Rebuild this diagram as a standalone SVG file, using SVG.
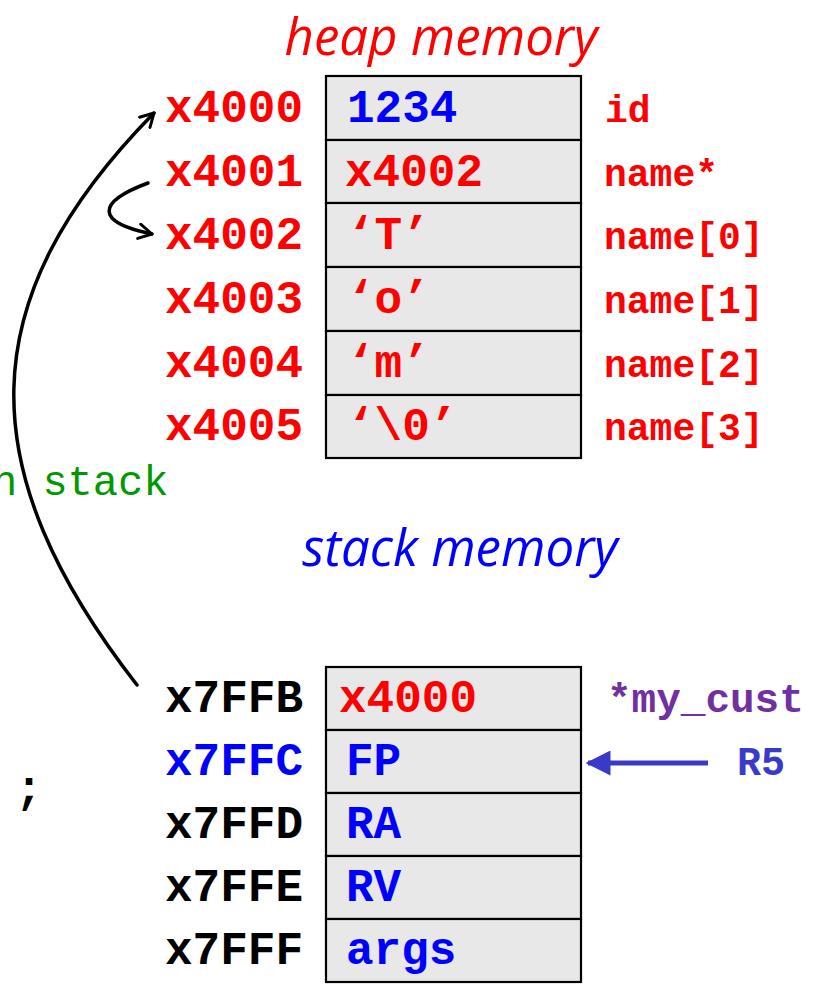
<svg xmlns="http://www.w3.org/2000/svg" width="832" height="992" viewBox="0 0 832 992">
<style>
.cell{fill:#E8E8E8;stroke:#000;stroke-width:2.2}
.mono{font-family:"Liberation Mono","Courier New",monospace;font-weight:bold}
.addr{font-size:46px}
.lbl{font-size:38px}
.title{font-family:"Open Sans","Noto Sans",sans-serif;font-style:italic;font-size:51px}
.red{fill:#FF0000}
.blue{fill:#0000FF}
.blk{fill:#000}
.conn{fill:none;stroke:#000;stroke-width:3.5;stroke-linecap:round}
</style>
<defs>
<marker id="open" viewBox="0 0 12 12" refX="10" refY="6" markerWidth="5" markerHeight="5" orient="auto" markerUnits="strokeWidth">
<path d="M1,1 L10,6 L1,11" fill="none" stroke="#000" stroke-width="2" stroke-linecap="round" stroke-linejoin="round"/>
</marker>
<marker id="tri" viewBox="0 0 10 10" refX="9" refY="5" markerWidth="5" markerHeight="5" orient="auto" markerUnits="strokeWidth">
<path d="M0,0 L10,5 L0,10 Z" fill="#3A3AC8"/>
</marker>
</defs>
<rect width="832" height="992" fill="#fff"/>

<text class="title red" x="441" y="55" text-anchor="middle">heap memory</text>
<text class="title blue" x="460" y="566" text-anchor="middle">stack memory</text>

<g id="heap">
<g id="heap-x4000"><rect class="cell" x="326" y="76" width="255" height="64"/><text class="mono addr red" x="165" y="122">x4000</text><text class="mono addr blue" x="347" y="122">1234</text><text class="mono lbl red" x="605" y="122">id</text></g>
<g id="heap-x4001"><rect class="cell" x="326" y="140" width="255" height="63"/><text class="mono addr red" x="165" y="186">x4001</text><text class="mono addr red" x="345" y="186">x4002</text><text class="mono lbl red" x="604" y="186">name*</text></g>
<g id="heap-x4002"><rect class="cell" x="326" y="203" width="255" height="64"/><text class="mono addr red" x="165" y="249">x4002</text><text class="mono addr red" x="347" y="249">‘T’</text><text class="mono lbl red" x="604" y="249">name[0]</text></g>
<g id="heap-x4003"><rect class="cell" x="326" y="267" width="255" height="64"/><text class="mono addr red" x="165" y="313">x4003</text><text class="mono addr red" x="347" y="313">‘o’</text><text class="mono lbl red" x="604" y="313">name[1]</text></g>
<g id="heap-x4004"><rect class="cell" x="326" y="331" width="255" height="64"/><text class="mono addr red" x="165" y="377">x4004</text><text class="mono addr red" x="347" y="377">‘m’</text><text class="mono lbl red" x="604" y="377">name[2]</text></g>
<g id="heap-x4005"><rect class="cell" x="326" y="395" width="255" height="63"/><text class="mono addr red" x="165" y="440">x4005</text><text class="mono addr red" x="347" y="440">‘\0’</text><text class="mono lbl red" x="604" y="440">name[3]</text></g>
</g>

<g id="stack">
<g id="stack-x7FFB"><rect class="cell" x="326" y="667" width="255" height="63"/><text class="mono addr blk" x="165" y="712">x7FFB</text><text class="mono addr red" x="339" y="712">x4000</text><text class="mono" x="607" y="712" font-size="41" fill="#7030A0">*my_cust</text></g>
<g id="stack-x7FFC"><rect class="cell" x="326" y="730" width="255" height="63"/><text class="mono addr blue" x="165" y="775">x7FFC</text><text class="mono addr blue" x="346" y="775">FP</text></g>
<g id="stack-x7FFD"><rect class="cell" x="326" y="793" width="255" height="63"/><text class="mono addr blk" x="165" y="838">x7FFD</text><text class="mono addr blue" x="346" y="838">RA</text></g>
<g id="stack-x7FFE"><rect class="cell" x="326" y="856" width="255" height="63"/><text class="mono addr blk" x="165" y="901">x7FFE</text><text class="mono addr blue" x="346" y="901">RV</text></g>
<g id="stack-x7FFF"><rect class="cell" x="326" y="919" width="255" height="63"/><text class="mono addr blk" x="165" y="964">x7FFF</text><text class="mono addr blue" x="346" y="964">args</text></g>
</g>

<g id="R5"><text class="mono" x="737" y="775" font-size="40" fill="#3A3AC8">R5</text></g>

<text x="-8" y="495" font-family="Liberation Mono,Courier New,monospace" font-size="42" fill="#009900">n stack</text>
<text class="mono" x="15" y="803" font-size="46" fill="#000">;</text>

<g id="connectors">
<path class="conn" d="M137,685 C -30,470 -30,300 154,113" marker-end="url(#open)"/>
<path class="conn" d="M148,183 C 97,202 94,222 152,234" marker-end="url(#open)"/>
<line x1="708" y1="763" x2="588" y2="763" stroke="#3A3AC8" stroke-width="5" marker-end="url(#tri)"/>
</g>
</svg>
